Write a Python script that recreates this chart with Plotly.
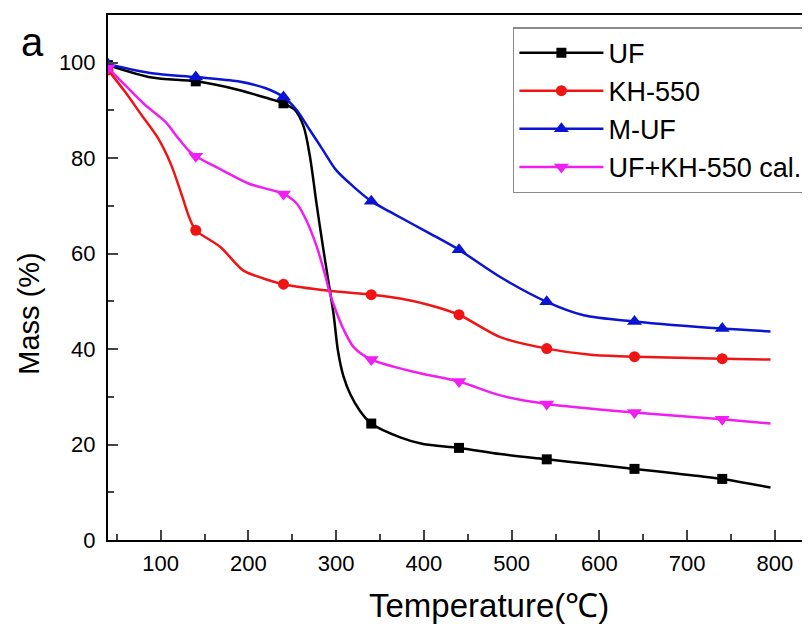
import plotly.graph_objects as go

# ---------------- data ----------------
uf_T = [40, 90, 140, 189, 219, 240, 253, 263, 270, 278, 285, 291, 297, 302, 308, 316, 327, 340, 373, 399, 440, 487, 540, 590, 640, 690, 740, 795]
uf_M = [99.5, 96.9, 96.1, 94.3, 92.7, 91.5, 90.1, 86.6, 80.5, 70.0, 61.4, 54.4, 47.4, 39.7, 34.5, 30.6, 27.1, 24.4, 21.5, 20.1, 19.3, 18.0, 16.9, 15.9, 14.9, 13.9, 12.8, 11.0]

kh_T = [40, 59, 78, 97, 112, 124, 133, 140, 168, 194, 217, 240, 293, 340, 373, 407, 440, 487, 540, 590, 640, 740, 795]
kh_M = [98.5, 94.0, 89.1, 84.2, 78.6, 72.3, 67.4, 64.9, 61.4, 56.5, 54.8, 53.6, 52.2, 51.4, 50.6, 49.2, 47.2, 42.5, 40.1, 38.8, 38.4, 38.0, 37.8]

muf_T = [40, 90, 140, 188, 219, 240, 255, 270, 285, 300, 320, 340, 361, 407, 440, 487, 540, 582, 640, 740, 795]
muf_M = [99.7, 97.8, 97.0, 96.1, 94.7, 92.8, 90.1, 85.9, 81.7, 77.5, 74.0, 71.0, 68.8, 64.2, 60.8, 55.1, 49.9, 47.1, 45.8, 44.3, 43.7]

cal_T = [40, 59, 82, 105, 120, 133, 140, 170, 200, 240, 255, 266, 278, 287, 293, 301, 308, 320, 340, 392, 440, 487, 540, 640, 740, 795]
cal_M = [98.9, 95.4, 91.2, 87.7, 84.2, 81.4, 80.4, 77.5, 74.7, 72.5, 70.5, 67.0, 61.4, 55.8, 51.6, 47.4, 44.3, 40.4, 37.8, 35.1, 33.2, 30.3, 28.5, 26.7, 25.3, 24.4]

marker_T = [40, 140, 240, 340, 440, 540, 640, 740]
uf_mk = [99.5, 96.1, 91.5, 24.4, 19.3, 16.9, 14.9, 12.8]
kh_mk = [98.5, 64.9, 53.6, 51.4, 47.2, 40.1, 38.4, 38.0]
muf_mk = [99.7, 97.0, 92.8, 71.0, 60.8, 49.9, 45.8, 44.3]
cal_mk = [98.9, 80.4, 72.5, 37.8, 33.2, 28.5, 26.7, 25.3]

names = ["UF", "KH-550", "M-UF", "UF+KH-550 cal."]
colors = ["#000000", "#f01414", "#0a14d2", "#f01ef0"]
symbols = ["square", "circle", "triangle-up", "triangle-down"]
msizes = [10, 11, 13, 13]

x_ticks = [100, 200, 300, 400, 500, 600, 700, 800]
y_ticks = [0, 20, 40, 60, 80, 100]

series = [(uf_T, uf_M, uf_mk), (kh_T, kh_M, kh_mk), (muf_T, muf_M, muf_mk), (cal_T, cal_M, cal_mk)]

FONT = "Liberation Sans, Arial, sans-serif"

fig = go.Figure()
for (T, M, mk), name, c, s, ms in zip(series, names, colors, symbols, msizes):
    fig.add_trace(go.Scatter(x=T, y=M, mode="lines", line=dict(color=c, width=2.5, shape="spline", smoothing=0.8),
                             showlegend=False, hoverinfo="skip"))
    fig.add_trace(go.Scatter(x=marker_T, y=mk, mode="markers", marker=dict(color=c, symbol=s, size=ms),
                             showlegend=False))
for name, c, s, ms in zip(names, colors, symbols, msizes):
    fig.add_trace(go.Scatter(x=[None], y=[None], mode="lines+markers", name=name,
                             line=dict(color=c, width=2.5), marker=dict(color=c, symbol=s, size=ms)))

# the page body has an 8 px margin, so the figure is 8 px smaller and shifted
fig.update_layout(
    width=802, height=616,
    margin=dict(l=100, r=0, t=7, b=84),
    paper_bgcolor="white", plot_bgcolor="white",
    font=dict(family=FONT, color="black"),
    legend=dict(x=0.997, y=0.977, xanchor="right", yanchor="top",
                bordercolor="#8a8a8a", borderwidth=1.5, bgcolor="white",
                font=dict(size=27, family=FONT), itemwidth=84, tracegroupgap=0),
    xaxis=dict(range=[40, 840], tickvals=x_ticks, ticks="inside", ticklen=10, tickwidth=2,
               showline=True, linewidth=2, linecolor="black", mirror=True, showgrid=False, zeroline=False,
               tickfont=dict(size=22), ticklabelstandoff=3,
               minor=dict(ticks="inside", ticklen=6, tickwidth=2, dtick=50, tick0=0, showgrid=False)),
    yaxis=dict(range=[0, 110], tickvals=y_ticks, ticks="inside", ticklen=10, tickwidth=2,
               showline=True, linewidth=2, linecolor="black", mirror=False, showgrid=False, zeroline=False,
               tickfont=dict(size=22), ticklabelstandoff=6,
               minor=dict(ticks="inside", ticklen=6, tickwidth=2, dtick=20, tick0=10, showgrid=False)),
    annotations=[
        dict(text="Temperature(℃)", xref="paper", yref="paper", x=0.543, y=-0.124,
             xanchor="center", yanchor="middle", showarrow=False, font=dict(size=33)),
        dict(text="Mass (%)", xref="paper", yref="paper", x=-0.113, y=(532 - 306) / 525,
             xanchor="center", yanchor="middle", textangle=-90, showarrow=False, font=dict(size=29)),
        dict(text="a", xref="paper", yref="paper", x=-0.107, y=(532 - 34) / 525,
             xanchor="center", yanchor="middle", showarrow=False, font=dict(size=40)),
    ],
)

fig.write_html("out.html")
